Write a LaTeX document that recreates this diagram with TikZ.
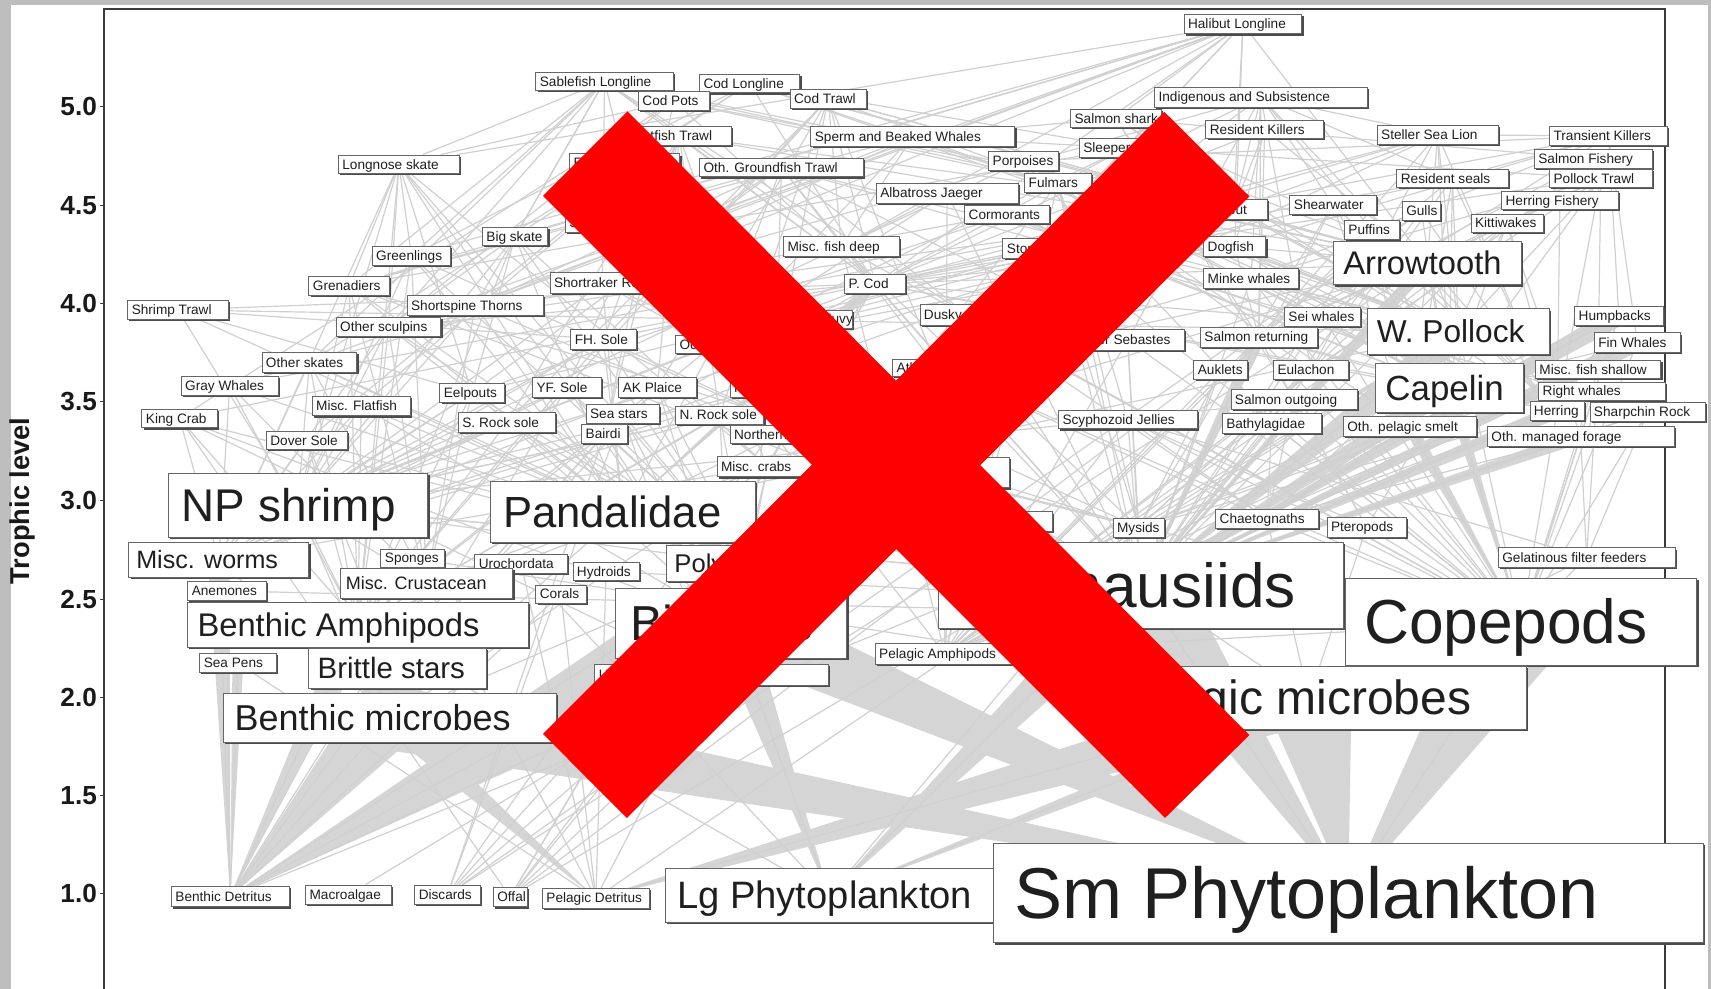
\documentclass[tikz,border=0pt]{standalone}
\usepackage{fontspec}
\setmainfont{Liberation Sans}
\usetikzlibrary{calc,shadows}
\pgfdeclarelayer{back}
\pgfdeclarelayer{bg}
\pgfsetlayers{back,bg,main}

\definecolor{paper}{HTML}{BEBEBE}
\definecolor{webgrey}{HTML}{D0D0D0}
\definecolor{flowgrey}{HTML}{D5D5D5}
\definecolor{framegrey}{HTML}{3A3A3A}
\definecolor{xred}{HTML}{FF0000}

\tikzset{
  box/.style={draw=black!60, line width=0.7pt, fill=white, inner sep=0pt, text=black!88,
    drop shadow={shadow xshift=1.6pt, shadow yshift=-1.6pt, fill=black!70, opacity=1}},
  web/.style={draw=webgrey, line width=1.1pt},
  flowfill/.style={fill=flowgrey},
  ticklab/.style={font=\fontsize{24}{24}\selectfont\bfseries, text=black!90, inner sep=0pt},
  axlab/.style={font=\fontsize{25}{25}\selectfont\bfseries, text=black!90, inner sep=0pt},
  frame/.style={draw=framegrey, line width=1.8pt},
  tickmark/.style={draw=framegrey, line width=1pt},
  crossbar/.style={fill=xred},
}

% boxed group label: name, x1, y1, x2, y2, font size, text
\newcommand{\bx}[7]{%
  \pgfmathsetmacro{\bxw}{#4-#2}%
  \pgfmathsetmacro{\bxh}{#5-#3}%
  \pgfmathsetmacro{\bxpad}{0.3*#6}%
  \pgfmathsetmacro{\bxth}{0.75*#6}%
  \pgfmathsetmacro{\bxtd}{0.05*#6}%
  \node[box, minimum width=\bxw pt, minimum height=\bxh pt,
    text height=\bxth pt, text depth=\bxtd pt,
    font=\fontsize{#6}{#6}\selectfont] (#1) at ({(#2+#4)/2},{(#3+#5)/2})
    {\makebox[\bxw pt][l]{\hspace*{\bxpad pt}#7}};}

% tapered flow: pointed at the prey, wide at the predator
\newcommand{\flow}[3]{%
  \fill[flowfill] (#1.center) -- ($(#2.center)!#3pt!90:(#1.center)$)
    -- ($(#2.center)!#3pt!-90:(#1.center)$) -- cycle;}

\begin{document}
\begin{tikzpicture}[x=1pt,y=-1pt]
\useasboundingbox (0,0) rectangle (1568,906);

% ---------- group labels ----------
\def\s{12.5}
\bx{hl}{1085}{13}{1193}{31}{\s}{Halibut Longline}
\bx{sfl}{491}{66}{617}{83}{\s}{Sablefish Longline}
\bx{cl}{641}{68}{733}{85}{\s}{Cod Longline}
\bx{cp}{585}{84}{650}{101}{\s}{Cod Pots}
\bx{ct}{724}{82}{794}{99}{\s}{Cod Trawl}
\bx{ind}{1058}{80}{1253}{98}{\s}{Indigenous and Subsistence}
\bx{fft}{575}{116}{670}{133}{\s}{Flatfish Trawl}
\bx{sbw}{743}{116}{930}{134}{\s}{Sperm and Beaked Whales}
\bx{ssh}{981}{100}{1064}{117}{\s}{Salmon shark}
\bx{rk}{1105}{110}{1213}{127}{\s}{Resident Killers}
\bx{ssl}{1262}{115}{1373}{132}{\s}{Steller Sea Lion}
\bx{tk}{1420}{116}{1528}{133}{\s}{Transient Killers}
\bx{lns}{310}{142}{421}{159}{\s}{Longnose skate}
\bx{hidE}{522}{141}{623}{158}{\s}{Eulachon}
\bx{ogt}{641}{145}{791}{162}{\s}{Oth. Groundfish Trawl}
\bx{porp}{906}{139}{970}{156}{\s}{Porpoises}
\bx{slp}{989}{127}{1075}{144}{\s}{Sleeper shark}
\bx{sf}{1406}{137}{1514}{154}{\s}{Salmon Fishery}
\bx{pt}{1420}{155}{1514}{172}{\s}{Pollock Trawl}
\bx{rs}{1280}{155}{1382}{172}{\s}{Resident seals}
\bx{ful}{939}{159}{1000}{176}{\s}{Fulmars}
\bx{alb}{803}{168}{933}{186}{\s}{Albatross Jaeger}
\bx{hf}{1376}{175}{1483}{192}{\s}{Herring Fishery}
\bx{corm}{884}{188}{962}{205}{\s}{Cormorants}
\bx{hal}{1100}{183}{1161}{201}{\s}{Halibut}
\bx{shw}{1182}{179}{1261}{196}{\s}{Shearwater}
\bx{gul}{1285}{185}{1320}{202}{\s}{Gulls}
\bx{puf}{1232}{202}{1282}{219}{\s}{Puffins}
\bx{kit}{1348}{196}{1414}{213}{\s}{Kittiwakes}
\bx{hid2}{518}{196}{600}{213}{\s}{Sablefish}
\bx{bsk}{442}{208}{502}{225}{\s}{Big skate}
\bx{mfd}{718}{217}{824}{235}{\s}{Misc. fish deep}
\bx{stp}{919}{218}{1010}{237}{\s}{Storm Petrels}
\bx{dog}{1103}{217}{1160}{235}{\s}{Dogfish}
\bx{grl}{341}{226}{413}{243}{\s}{Greenlings}
\bx{gren}{283}{253}{357}{271}{\s}{Grenadiers}
\bx{srk}{504}{250}{600}{269}{\s}{Shortraker Rock}
\bx{pcod}{774}{251}{830}{269}{\s}{P. Cod}
\bx{mink}{1103}{246}{1190}{264}{\s}{Minke whales}
\bx{st}{117}{275}{209}{293}{\s}{Shrimp Trawl}
\bx{sst}{373}{271}{498}{289}{\s}{Shortspine Thorns}
\bx{hidY}{700}{284}{781}{301}{\s}{Sandfish Juvy}
\bx{dus}{843}{279}{930}{298}{\s}{Dusky Rock}
\bx{osc}{308}{291}{404}{308}{\s}{Other sculpins}
\bx{sei}{1177}{282}{1247}{299}{\s}{Sei whales}
\bx{hump}{1443}{281}{1524}{298}{\s}{Humpbacks}
\bx{fhs}{523}{302}{583}{320}{\s}{FH. Sole}
\bx{oct}{619}{307}{690}{324}{\s}{Octopi}
\bx{osb}{982}{302}{1085}{321}{\s}{Other Sebastes}
\bx{salr}{1100}{300}{1207}{318}{\s}{Salmon returning}
\bx{fin}{1461}{305}{1540}{323}{\s}{Fin Whales}
\bx{osk}{240}{323}{327}{341}{\s}{Other skates}
\bx{auk}{1094}{330}{1143}{348}{\s}{Auklets}
\bx{eul}{1167}{330}{1236}{348}{\s}{Eulachon}
\bx{mfs}{1407}{330}{1522}{347}{\s}{Misc. fish shallow}
\bx{atka}{818}{329}{900}{345}{\s}{Atka mackerel}
\bx{gwh}{166}{345}{255}{362}{\s}{Gray Whales}
\bx{eel}{403}{351}{462}{369}{\s}{Eelpouts}
\bx{yfs}{488}{346}{551}{364}{\s}{YF. Sole}
\bx{akp}{567}{346}{638}{364}{\s}{AK Plaice}
\bx{rex}{669}{347}{740}{364}{\s}{Rex Sole}
\bx{rw}{1410}{350}{1526}{367}{\s}{Right whales}
\bx{mfl}{286}{363}{376}{381}{\s}{Misc. Flatfish}
\bx{salo}{1128}{357}{1244}{375}{\s}{Salmon outgoing}
\bx{kc}{130}{375}{199}{392}{\s}{King Crab}
\bx{sstar}{537}{371}{604}{388}{\s}{Sea stars}
\bx{nrs}{619}{372}{700}{389}{\s}{N. Rock sole}
\bx{her}{1402}{368}{1452}{385}{\s}{Herring}
\bx{shr}{1457}{369}{1563}{386}{\s}{Sharpchin Rock}
\bx{scy}{970}{376}{1097}{393}{\s}{Scyphozoid Jellies}
\bx{bath}{1120}{379}{1211}{397}{\s}{Bathylagidae}
\bx{ops}{1231}{382}{1353}{400}{\s}{Oth. pelagic smelt}
\bx{omf}{1363}{391}{1534}{409}{\s}{Oth. managed forage}
\bx{dov}{244}{395}{318}{412}{\s}{Dover Sole}
\bx{srs}{420}{378}{509}{396}{\s}{S. Rock sole}
\bx{bai}{533}{389}{575}{406}{\s}{Bairdi}
\bx{nro}{669}{390}{750}{406}{\s}{Northern Rock}
\bx{mcr}{657}{418}{750}{437}{\s}{Misc. crabs}
\bx{hidM}{820}{419}{925}{447}{23}{Squids}
\bx{hidS}{880}{469}{964}{487}{\s}{Sandlance}
\bx{mys}{1020}{475}{1067}{492}{\s}{Mysids}
\bx{cha}{1114}{467}{1208}{484}{\s}{Chaetognaths}
\bx{pte}{1216}{474}{1289}{492}{\s}{Pteropods}
\bx{gel}{1373}{502}{1535}{520}{\s}{Gelatinous filter feeders}
\bx{spo}{349}{503}{407}{520}{\s}{Sponges}
\bx{uro}{435}{508}{520}{525}{\s}{Urochordata}
\bx{hyd}{525}{515}{586}{532}{\s}{Hydroids}
\bx{cor}{491}{536}{537}{553}{\s}{Corals}
\bx{ane}{172}{533}{244}{550}{\s}{Anemones}
\bx{spn}{183}{599}{253}{616}{\s}{Sea Pens}
\bx{urc}{545}{609}{759}{628}{\s}{Urchins dollars cucumbers}
\bx{pam}{802}{590}{930}{609}{\s}{Pelagic Amphipods}
\bx{bde}{157}{812}{265}{831}{\s}{Benthic Detritus}
\bx{mac}{280}{811}{359}{829}{\s}{Macroalgae}
\bx{dis}{380}{811}{440}{829}{\s}{Discards}
\bx{off}{452}{813}{483}{831}{\s}{Offal}
\bx{pde}{497}{814}{595}{832}{\s}{Pelagic Detritus}
% larger labels
\bx{arr}{1222}{221}{1394}{261}{30}{Arrowtooth}
\bx{wp}{1253}{283}{1420}{325}{29}{W. Pollock}
\bx{cap}{1260}{333}{1396}{378}{32}{Capelin}
\bx{nps}{154}{434}{392}{492}{42}{NP shrimp}
\bx{pan}{449}{441}{692}{497}{40}{Pandalidae}
\bx{mw}{118}{497}{283}{529}{23}{Misc. worms}
\bx{pol}{611}{500}{760}{533}{23.5}{Polychaetes}
\bx{mcru}{312}{521}{470}{548}{16.5}{Misc. Crustacean}
\bx{bam}{172}{552}{484}{593}{30}{Benthic Amphipods}
\bx{biv}{564}{539}{776}{603}{45}{Bivalves}
\bx{eup}{860}{497}{1231}{576}{57}{Euphausiids}
\bx{cop}{1233}{530}{1555}{610}{57}{Copepods}
\bx{pmi}{1000}{611}{1399}{668}{44}{Pelagic microbes}
\bx{bst}{283}{594}{446}{631}{27}{Brittle stars}
\bx{bmi}{205}{635}{510}{680}{33}{Benthic microbes}
\bx{lgp}{610}{796}{910}{845}{35}{Lg Phytoplankton}
\bx{smp}{910}{773}{1561}{864}{66}{Sm Phytoplankton}

% ---------- axis labels ----------
\foreach \v/\yy in {5.0/98,4.5/188,4.0/278,3.5/368,3.0/459,2.5/549,2.0/639,1.5/729,1.0/819}{
  \node[ticklab, anchor=east] (tick\v) at (89,\yy) {\v};
}
\node[axlab, rotate=90] (ylabel) at (21,459) {Trophic level};

% ---------- page and panel ----------
\begin{pgfonlayer}{back}
  \fill[paper] (0,0) rectangle (1568,906);
  \fill[white] (10,5) rectangle (1565,906);
\end{pgfonlayer}

% ---------- food web ----------
\begin{pgfonlayer}{bg}
  % broad flows
  \flow{bde}{biv}{40}
  \flow{bde}{bmi}{28}
  \flow{bde}{bst}{16}
  \flow{bde}{bam}{14}
  \flow{bde}{spn}{5}
  \flow{bde}{mw}{10}
  \flow{bde}{pol}{14}
  \flow{smp}{cop}{45}
  \flow{smp}{eup}{38}
  \flow{smp}{pmi}{40}
  \flow{smp}{biv}{30}
  \flow{smp}{bmi}{30}
  \flow{lgp}{eup}{22}
  \flow{lgp}{biv}{18}
  \flow{lgp}{cop}{14}
  \flow{pde}{pmi}{25}
  \flow{pde}{bmi}{12}
  \flow{eup}{wp}{14}
  \flow{eup}{cap}{10}
  \flow{eup}{hump}{9}
  \flow{eup}{fin}{8}
  \flow{eup}{omf}{6}
  \flow{eup}{her}{7}
  \flow{eup}{arr}{6}
  \flow{eup}{salr}{6}
  \flow{cop}{ops}{6}
  \flow{cop}{cap}{6}
  \flow{pan}{pcod}{5}
  % trophic links
  \foreach \p/\qs in {
    hl/{lns,bsk,slp,ssh,hal,pcod,dog,arr,gren,sst,osk,mfd,grl,srk,dus,osc},
    sfl/{lns,bsk,grl,gren,sst,srk,osk,osc,hal,arr,pcod,mfd,dus,hidE},
    cl/{pcod,hal,arr,wp,dog,lns,bsk,osk,slp,grl},
    cp/{pcod,kc,bai,hal,arr,osc},
    ct/{pcod,wp,arr,fhs,yfs,akp,nrs,srs,hal,mfd,atka,rex},
    fft/{arr,fhs,rex,dov,yfs,akp,nrs,srs,mfl,bai,pcod,hal},
    ogt/{wp,pcod,atka,dus,nro,shr,osb,srk,sst,oct,gren,eel},
    ind/{hal,ssl,rs,salr,her,eul,pcod,dus,gwh,mink,osb,shw,puf},
    sf/{salr,salo,ssh},
    pt/{wp,arr,pcod,her,cap,salr,slp,eul,mfs,atka},
    hf/{her,salr},
    st/{pan,nps,fhs,arr,wp,eel},
    tk/{ssl,rs,porp,mink,gwh,hump,fin,sei,dog},
    rk/{salr,hal,pcod,arr,dog},
    ssl/{wp,salr,arr,pcod,her,cap,eul,oct,atka,hal},
    rs/{wp,her,cap,salr,oct,pcod,eul,ops},
    sbw/{gren,slp,mfd,oct,sst,srk,dog,ssh},
    porp/{her,cap,wp,ops,eul,mfd,bath},
    ful/{cap,her,wp,mys,eup,pam,scy,off},
    alb/{cap,her,oct,mfd,pam,eup},
    corm/{cap,her,wp,osc,eel},
    shw/{eup,cap,her,ops,mys},
    gul/{cap,her,eup,dis,off},
    puf/{cap,her,ops,eup,pam},
    kit/{cap,her,eup,pam,ops,omf},
    stp/{eup,mys,pam,cop},
    auk/{eup,cop,pam,mys},
    mink/{eup,cap,her,wp,cop},
    sei/{cop,eup},
    hump/{eup,cap,her,cop,ops,omf},
    fin/{eup,cop,cap},
    rw/{cop,eup},
    gwh/{bam,mw,pol,mcru},
    dog/{arr,wp,salr,pcod,oct,her,cap},
    ssh/{salr,salo,wp,arr,her},
    slp/{arr,wp,pcod,oct,gren,hal,off,dis},
    hal/{arr,wp,pcod,oct,bai,kc,pan,nps,fhs,eel,osc,mcr,dis,off},
    arr/{wp,cap,eup,pan,her,ops,mys,nps,dis},
    wp/{eup,cop,cap,pan,mys,pam,cha,off},
    pcod/{pan,nps,wp,bai,mcr,osc,her,eup,cap,off,dis},
    lns/{nps,pan,mcr,bam,mw,pol,osc,bai,eel,grl,gren},
    bsk/{nps,pan,mcr,bam,pol,osc,eel},
    osk/{nps,pan,bam,mw,pol,mcru},
    grl/{nps,pan,mcru,bam,pol,eup},
    gren/{nps,pan,mcru,bam,pol,eup,mys},
    sst/{nps,pan,mcru,osc,eup},
    srk/{pan,nps,eup,mys},
    dus/{eup,cop,pam,cha},
    osc/{nps,pan,bam,pol,mw,mcru},
    eel/{bam,pol,mw,nps,mcru},
    fhs/{pol,bam,mw,nps,pan,eup},
    yfs/{pol,bam,biv,mw,nps,bst},
    akp/{pol,bam,biv,mw,bst},
    rex/{pol,bam,mw,nps},
    dov/{pol,bam,mw,bst},
    nrs/{pol,bam,biv,mw,nps},
    srs/{pol,bam,biv,mw,nps},
    mfl/{pol,bam,mw,nps,biv},
    kc/{biv,pol,mw,bst,urc,off},
    bai/{biv,pol,mw,bst,bam,dis},
    mcr/{biv,pol,mw,bmi,bam,off},
    sstar/{biv,pol,urc,bst,dis},
    nps/{bam,pol,bmi,eup,cop,mcru},
    pan/{bam,pol,bmi,eup,cop,mcru},
    salr/{eup,cop,cap,her,pam,pte},
    salo/{eup,cop,pam,pte,cha},
    eul/{eup,cop,mys,pam},
    cap/{eup,cop,mys,pam,cha,pte},
    her/{eup,cop,mys,pam,cha},
    ops/{eup,cop,mys,pam,cha},
    omf/{eup,cop,pam,cha,gel},
    bath/{eup,cop,pam,cha},
    mfs/{eup,cop,pam,mys,nps,gel},
    mfd/{eup,cop,pam,mys,nps},
    atka/{eup,cop,pam,cha},
    shr/{eup,cop,pam,gel},
    osb/{eup,cop,pam,mys},
    nro/{eup,cop,pam,mys},
    oct/{nps,pan,mcr,bai},
    scy/{cop,eup,pam,gel,cha,pte},
    eup/{lgp,smp,pmi},
    cop/{lgp,smp,pmi},
    mys/{lgp,pde,bde},
    pam/{cop,pmi},
    cha/{cop,pmi},
    pte/{cop,pmi},
    gel/{cop,pmi},
    spo/{bde,pmi,pde},
    uro/{pde,lgp},
    hyd/{cop,pde},
    cor/{pde,bde},
    ane/{bde,cop},
    spn/{bde,pde},
    pol/{bde,bmi},
    mw/{bde,bmi},
    biv/{bde,lgp},
    bst/{bde,bmi},
    bam/{bde,bmi,lgp},
    mcru/{bde,bmi},
    urc/{bde,mac,pde},
    bmi/{bde},
    pmi/{pde}}{
    \foreach \q in \qs {\draw[web] (\p) -- (\q);}
  }
  % plot frame
  \draw[frame] (95,906) -- (95,8.5) -- (1526,8.5) -- (1526,906);
  \foreach \yy in {98,188,278,368,459,549,639,729,819}{
    \draw[tickmark] (92,\yy) -- (95,\yy);
  }
\end{pgfonlayer}

% ---------- crossing bars ----------
\fill[crossbar] (575,102) -- (1145,673.6) -- (1067.6,749.6) -- (497.6,179.6) -- cycle;
\fill[crossbar] (1067,102.5) -- (1145,180) -- (574.5,749.6) -- (497.6,672.6) -- cycle;
\end{tikzpicture}
\end{document}
